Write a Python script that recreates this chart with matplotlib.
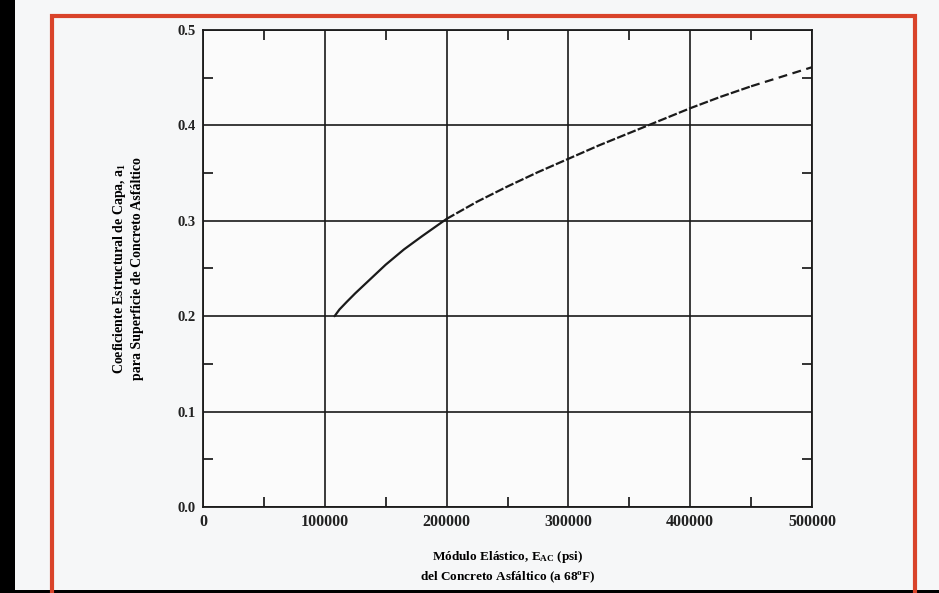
import matplotlib
matplotlib.use("Agg")
import matplotlib.pyplot as plt
from matplotlib.patches import Rectangle
from matplotlib.ticker import MultipleLocator

plt.rcParams["font.family"] = ["Liberation Serif", "DejaVu Serif"]
plt.rcParams["mathtext.fontset"] = "custom"
plt.rcParams["mathtext.rm"] = "Liberation Serif:bold"
plt.rcParams["mathtext.it"] = "Liberation Serif:italic"
plt.rcParams["mathtext.bf"] = "Liberation Serif:bold"

# Layer coefficient curve for asphalt concrete surface course
modulus_psi = [108000, 112000, 118000, 125000, 135000, 150000, 165000,
               180000, 200000, 225000, 250000, 275000, 300000, 325000,
               350000, 375000, 400000, 425000, 450000, 475000, 500000]
layer_coef = [0.200, 0.207, 0.215, 0.224, 0.236, 0.254, 0.270,
              0.284, 0.302, 0.320, 0.336, 0.351, 0.365, 0.379,
              0.392, 0.405, 0.418, 0.430, 0.441, 0.451, 0.461]
solid_until = 200000      # measured range, drawn solid
fine_dash_until = 450000  # extrapolated range, dashed

x_ticks = [0, 100000, 200000, 300000, 400000, 500000]
x_tick_labels = ["0", "100000", "200000", "300000", "400000", "500000"]
y_ticks = [0.0, 0.1, 0.2, 0.3, 0.4, 0.5]
y_tick_labels = ["0.0", "0.1", "0.2", "0.3", "0.4", "0.5"]

fig = plt.figure(figsize=(9.39, 5.93), dpi=100)
fig.patch.set_facecolor("#f6f7f8")

# scanner edges and red frame
fig.add_artist(Rectangle((0, 0), 15 / 939, 1, transform=fig.transFigure,
                         facecolor="black", edgecolor="none", zorder=0))
fig.add_artist(Rectangle((0, 0), 1, 3 / 593, transform=fig.transFigure,
                         facecolor="black", edgecolor="none", zorder=0))
fig.add_artist(Rectangle((52 / 939, -0.05), (915 - 52) / 939, 1.05 - 16 / 593,
                         transform=fig.transFigure, facecolor="none",
                         edgecolor="#d9432a", linewidth=3.0, zorder=1))

ax = fig.add_axes([203 / 939, 1 - 507 / 593, 609 / 939, 477 / 593])
ax.set_facecolor("#fbfbfb")
ax.set_xlim(0, 500000)
ax.set_ylim(0, 0.5)

ax.set_xticks(x_ticks)
ax.set_xticklabels(x_tick_labels, fontsize=11.5, fontweight="bold")
ax.set_yticks(y_ticks)
ax.set_yticklabels(y_tick_labels, fontsize=10.5, fontweight="bold")
ax.xaxis.set_minor_locator(MultipleLocator(50000))
ax.yaxis.set_minor_locator(MultipleLocator(0.05))
ax.tick_params(which="major", length=0, pad=5, colors="#222222")
ax.tick_params(which="minor", direction="in", length=7, width=1.3,
               top=True, right=True, color="#222222")
ax.grid(True, which="major", color="#1a1a1a", linewidth=1.2)
for s in ax.spines.values():
    s.set_linewidth(1.3)
    s.set_color("#1a1a1a")

# split curve into solid and dashed parts
i2 = modulus_psi.index(solid_until)
i3 = modulus_psi.index(fine_dash_until)
ax.plot(modulus_psi[:i2 + 1], layer_coef[:i2 + 1], color="#1a1a1a", lw=1.6,
        zorder=3, solid_capstyle="round", solid_joinstyle="round")
ax.plot(modulus_psi[i2:i3 + 1], layer_coef[i2:i3 + 1], color="#1a1a1a",
        lw=1.6, ls=(0, (4, 1.0)), zorder=3)
ax.plot(modulus_psi[i3:], layer_coef[i3:], color="#1a1a1a",
        lw=1.6, ls=(0, (4, 2.5)), zorder=3)

ax.set_xlabel("Módulo Elástico, E$_{\\rm AC}$ (psi)\ndel Concreto Asfáltico (a 68$^{\\rm o}$F)",
              fontsize=9.5, fontweight="bold", labelpad=14, linespacing=1.4)
ax.set_ylabel("Coeficiente Estructural de Capa, a$_1$\npara Superficie de Concreto Asfáltico",
              fontsize=10, fontweight="bold", labelpad=24, linespacing=1.3)

fig.savefig("out.png", dpi=100, facecolor=fig.get_facecolor())
